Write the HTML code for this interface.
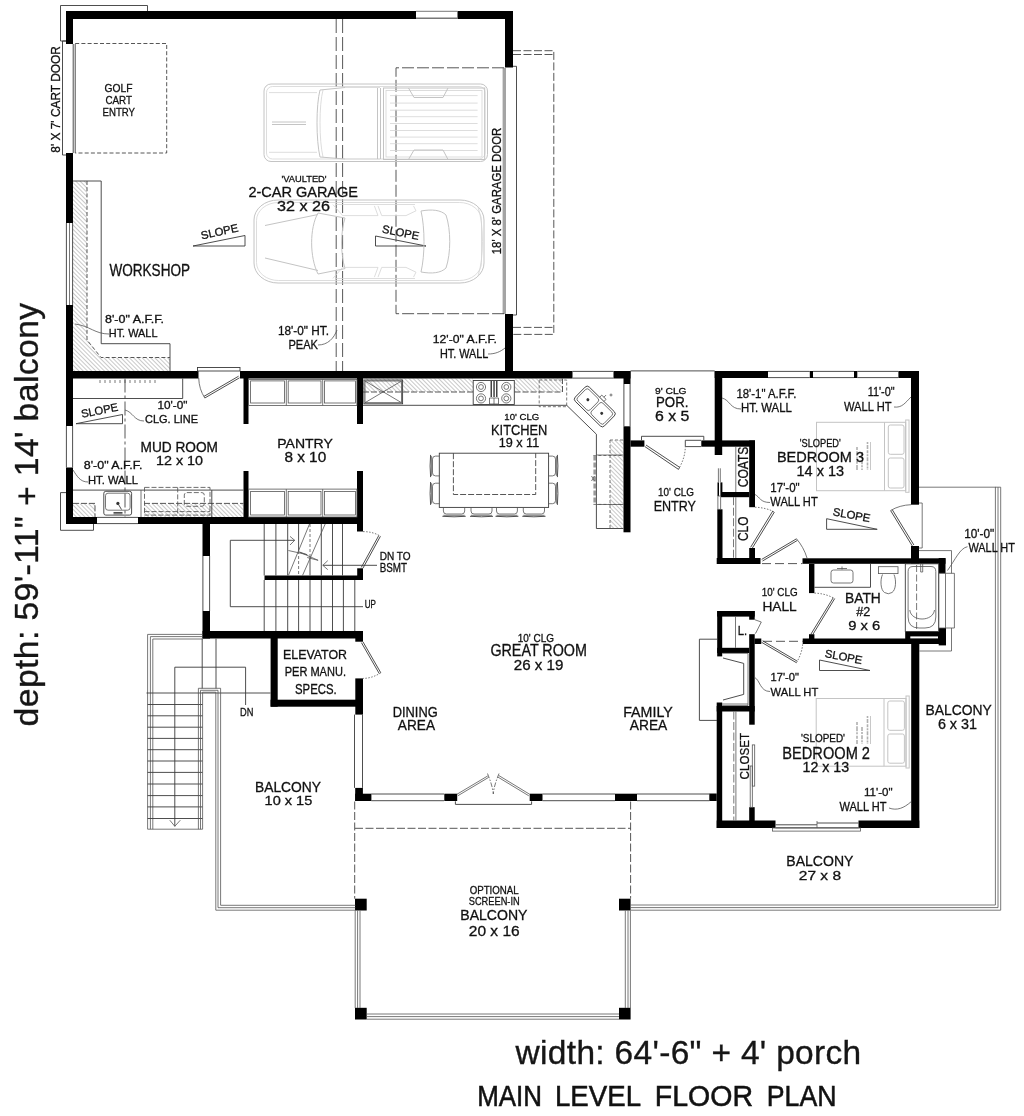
<!DOCTYPE html>
<html><head><meta charset="utf-8"><title>Main Level Floor Plan</title>
<style>
html,body{margin:0;padding:0;background:#fff;}
body{width:1024px;height:1116px;overflow:hidden;font-family:"Liberation Sans",sans-serif;}
svg{display:block;filter:grayscale(1);}
svg text{font-family:"Liberation Sans",sans-serif;}
.t{stroke:#3a3a3a;stroke-width:.9;fill:none;}
.t2{stroke:#555;stroke-width:.8;fill:none;}
.d{stroke:#444;stroke-width:.9;fill:none;stroke-dasharray:4 2.2;}
.dg{stroke:#444;stroke-width:.9;fill:none;stroke-dasharray:12 3;}
.dr{stroke:#444;stroke-width:.9;fill:none;stroke-dasharray:14 4;}
.d3{stroke:#555;stroke-width:.8;fill:none;stroke-dasharray:8 2.5;}
.d4{stroke:#555;stroke-width:.85;fill:none;stroke-dasharray:5 2;}
.dl{stroke:#444;stroke-width:.9;fill:none;stroke-dasharray:8 2.5;}
.d2{stroke:#555;stroke-width:.8;fill:none;stroke-dasharray:3 2;}
.g{stroke:#c4c4c4;stroke-width:1;fill:none;}
.gg{stroke:#d4d4d4;stroke-width:.8;fill:none;}
.h{stroke:#8a8a8a;stroke-width:.5;fill:none;}
.tx{fill:#111;stroke:#111;stroke-width:.3;}
.big{fill:#161616;stroke:#161616;stroke-width:.35;}
.ttl{fill:#111;stroke:#111;stroke-width:.55;}
</style></head><body>
<svg width="1024" height="1116" viewBox="0 0 1024 1116">
<defs>
<pattern id="hat" width="3" height="3" patternUnits="userSpaceOnUse" patternTransform="rotate(-45)"><line x1="0" y1="0" x2="0" y2="3" stroke="#777" stroke-width=".8"/></pattern>
</defs>
<rect width="1024" height="1116" fill="#fff"/>
<g id="hatch">
<polygon points="73,181 87,181 87,340 101,357.5 170,357.5 170,371 73,371" fill="url(#hat)"/>
<rect x="73" y="503.4" width="22" height="13.6" fill="url(#hat)"/>
<rect x="144" y="503.4" width="99.5" height="13.6" fill="url(#hat)"/>
<rect x="363" y="378.5" width="110" height="13.5" fill="url(#hat)"/>
<rect x="514.5" y="378.5" width="48" height="13.5" fill="url(#hat)"/>
<rect x="610" y="440" width="13.5" height="88.5" fill="url(#hat)"/>
</g>
<g id="walls">
<rect x="66" y="11" width="350" height="8" fill="#000"/>
<rect x="457.5" y="11" width="55.5" height="8" fill="#000"/>
<rect x="66" y="11" width="7" height="33" fill="#000"/>
<rect x="66" y="153" width="7" height="70" fill="#000"/>
<rect x="66" y="305" width="7" height="73" fill="#000"/>
<rect x="505" y="11" width="8" height="56.5" fill="#000"/>
<rect x="505" y="314" width="8" height="58" fill="#000"/>
<rect x="66" y="371" width="132.5" height="7.5" fill="#000"/>
<rect x="240" y="371" width="332.5" height="7.5" fill="#000"/>
<rect x="613.5" y="371" width="17" height="7.5" fill="#000"/>
<rect x="66" y="378" width="7" height="48" fill="#000"/>
<rect x="66" y="467.5" width="7" height="56.5" fill="#000"/>
<rect x="66" y="517" width="31" height="7" fill="#000"/>
<rect x="138" y="517" width="225" height="7" fill="#000"/>
<rect x="243.5" y="378" width="5" height="46" fill="#000"/>
<rect x="243.5" y="471" width="5" height="46" fill="#000"/>
<rect x="357" y="378" width="6" height="46" fill="#000"/>
<rect x="357" y="471" width="6" height="60.5" fill="#000"/>
<rect x="202.5" y="524" width="7.5" height="32" fill="#000"/>
<rect x="202.5" y="611" width="7.5" height="27.5" fill="#000"/>
<rect x="202.5" y="631" width="160.5" height="7.5" fill="#000"/>
<rect x="264.5" y="575.5" width="98.5" height="4.5" fill="#000"/>
<rect x="357.2" y="568.3" width="5.8" height="11.7" fill="#000"/>
<rect x="355.3" y="631" width="7.7" height="10.7" fill="#000"/>
<rect x="355.3" y="678.4" width="7.7" height="36.2" fill="#000"/>
<rect x="270.6" y="638" width="7.1" height="68.7" fill="#000"/>
<rect x="270.6" y="699.7" width="92.4" height="7" fill="#000"/>
<rect x="623.5" y="371" width="7" height="13" fill="#000"/>
<rect x="623.5" y="426.3" width="7" height="106" fill="#000"/>
<rect x="630.5" y="440.4" width="13.9" height="6.3" fill="#000"/>
<rect x="701.3" y="440.4" width="53.7" height="6.3" fill="#000"/>
<rect x="714.7" y="371" width="7.5" height="84" fill="#000"/>
<rect x="714.7" y="371" width="53.3" height="7" fill="#000"/>
<rect x="809.8" y="371" width="3.2" height="7" fill="#000"/>
<rect x="854" y="371" width="3.3" height="7" fill="#000"/>
<rect x="898.4" y="371" width="20.6" height="7" fill="#000"/>
<rect x="911" y="371" width="8" height="133.7" fill="#000"/>
<rect x="911" y="546" width="8" height="18" fill="#000"/>
<rect x="749.2" y="440.4" width="5.8" height="66.8" fill="#000"/>
<rect x="721" y="492" width="28.2" height="5.2" fill="#000"/>
<rect x="717.3" y="509.3" width="5.2" height="54.7" fill="#000"/>
<rect x="717.5" y="482.4" width="1.5" height="13.6" fill="#000"/>
<rect x="720.4" y="482.4" width="2" height="13.6" fill="#000"/>
<rect x="716.7" y="558" width="43.8" height="6" fill="#000"/>
<rect x="802.5" y="558.3" width="143" height="5.5" fill="#000"/>
<rect x="749.2" y="548" width="5.8" height="10" fill="#000"/>
<rect x="809" y="564" width="5.4" height="29.1" fill="#000"/>
<rect x="809" y="634.2" width="5.4" height="4.8" fill="#000"/>
<rect x="938.7" y="558" width="6.8" height="15.3" fill="#000"/>
<rect x="938.7" y="628" width="7.3" height="17.4" fill="#000"/>
<rect x="754.5" y="638.5" width="6.8" height="5.5" fill="#000"/>
<rect x="802.7" y="638.5" width="141.8" height="5.5" fill="#000"/>
<rect x="905.2" y="631.5" width="40.8" height="12.5" fill="#000"/>
<rect x="910.3" y="636.4" width="27.7" height="2" fill="#fff"/>
<rect x="717.2" y="611" width="37.5" height="5.6" fill="#000"/>
<rect x="717.2" y="611" width="5" height="45.4" fill="#000"/>
<rect x="749.2" y="611" width="5.5" height="8.7" fill="#000"/>
<rect x="749.2" y="634.2" width="5.5" height="90.5" fill="#000"/>
<rect x="717.2" y="647.8" width="32" height="5.2" fill="#000"/>
<rect x="716.7" y="702.5" width="5.5" height="125.5" fill="#000"/>
<rect x="716.7" y="706" width="38" height="5.5" fill="#000"/>
<rect x="716.7" y="820.5" width="58.8" height="7.5" fill="#000"/>
<rect x="858.5" y="820.5" width="60.8" height="7.5" fill="#000"/>
<rect x="911.2" y="644" width="8.1" height="184" fill="#000"/>
<rect x="749.2" y="807.2" width="5.5" height="13.8" fill="#000"/>
<rect x="355.2" y="787.9" width="7.7" height="13.1" fill="#000"/>
<rect x="355.2" y="793.7" width="16.2" height="7.3" fill="#000"/>
<rect x="444.3" y="793.7" width="12.9" height="7.3" fill="#000"/>
<rect x="529.7" y="793.7" width="12.8" height="7.3" fill="#000"/>
<rect x="615" y="793.7" width="22" height="7.3" fill="#000"/>
<rect x="709.3" y="793.5" width="7.4" height="7.5" fill="#000"/>
<rect x="355" y="898.7" width="11.7" height="11.8" fill="#000"/>
<rect x="619" y="898.7" width="11.6" height="11.8" fill="#000"/>
<rect x="355" y="1007.8" width="11.7" height="11.7" fill="#000"/>
<rect x="619" y="1007.8" width="11.6" height="11.7" fill="#000"/>
</g>
<g id="garage">
<path class="t" d="M66,41 H60.5 V5.5 H147.5 V11"/>
<path class="t" d="M66,41 H62.5 V155 H66"/>
<line class="t" x1="73.2" y1="44" x2="73.2" y2="153"/>
<line class="t" x1="75.2" y1="44" x2="75.2" y2="153"/>
<path class="d" d="M75.2,43.5 H166.7 V153 H75.2"/>
<line class="t2" x1="416" y1="11.3" x2="457.5" y2="11.3"/>
<line x1="416" y1="18.2" x2="457.5" y2="18.2" stroke="#777" stroke-width="1.4"/>
<line class="t" x1="66.4" y1="223" x2="66.4" y2="305"/>
<line class="t" x1="72.6" y1="223" x2="72.6" y2="305"/>
<line class="t2" x1="69.5" y1="223" x2="69.5" y2="305"/>
<path class="t" d="M73,181 H101.2 V343.7 H170 V371"/>
<path class="d" d="M87,181 V340 L101,357.5 H170"/>
<line class="dr" x1="336.2" y1="19" x2="336.2" y2="371"/>
<line class="dr" x1="342.6" y1="19" x2="342.6" y2="371"/>
<rect x="502.6" y="67.8" width="3.4" height="246.2" fill="#a4a4a4"/>
<path class="t" d="M513,66.3 H516.5 V315 H513"/>
<path class="dg" d="M504,67.8 H396 V313.7 H504"/>
<path class="dl" d="M513,50.7 H553.8 V334.4 H513"/>
<line class="dl" x1="513" y1="54.5" x2="554" y2="54.5"/>
<line class="dl" x1="513" y1="327.4" x2="553.8" y2="327.4"/>
<path class="t" d="M193,246 L245,235.5 V246 Z"/>
<path class="t" d="M375.5,236 V246 H426 Z"/>
<path class="t2" d="M75,324 C90,326 95,334 109,334"/>
<path class="t2" d="M318,345 C328,345 334,338 337,330"/>
<path class="t2" d="M488,354 C495,354 500,352 505,348"/>
<rect class="t" x="197.5" y="367.5" width="42.5" height="3.5"/>
</g>
<g id="cars">
<rect class="g" x="264" y="84" width="223.5" height="77.5" rx="7"/>
<rect class="gg" x="266.5" y="86.5" width="218.5" height="72.5" rx="6"/>
<path class="g" d="M320,90 C316,105 316,140 320,157"/>
<path class="gg" d="M323,90 C319,105 319,140 323,157"/>
<path class="g" d="M320,90 L345,87.5 M320,157 L345,159"/>
<path class="gg" d="M345,87.5 H380 M345,159 H380"/>
<path class="g" d="M377.5,88 V159 M380.5,88 V159"/>
<rect class="g" x="383.5" y="88" width="101.2" height="71.5"/>
<rect class="gg" x="386" y="90.5" width="96" height="66.5"/>
<line class="gg" x1="390" y1="95.6" x2="477.6" y2="95.6"/>
<line class="gg" x1="390" y1="103.1" x2="477.6" y2="103.1"/>
<line class="gg" x1="390" y1="110.2" x2="477.6" y2="110.2"/>
<line class="gg" x1="390" y1="116.7" x2="477.6" y2="116.7"/>
<line class="gg" x1="390" y1="123.5" x2="477.6" y2="123.5"/>
<line class="gg" x1="390" y1="130.5" x2="477.6" y2="130.5"/>
<line class="gg" x1="390" y1="137.1" x2="477.6" y2="137.1"/>
<line class="gg" x1="390" y1="143.7" x2="477.6" y2="143.7"/>
<line class="gg" x1="390" y1="150.5" x2="477.6" y2="150.5"/>
<path class="gg" d="M269,92.6 H317 M269,152.3 H317"/>
<path class="g" d="M408.5,88 L414,97.5 H443 L448,88"/>
<path class="g" d="M408.5,159.5 L414,150 H443 L448,159.5"/>
<path class="g" d="M272,122 H306 M272,124.5 H306"/>
<rect class="g" x="254" y="200" width="230" height="83" rx="24" ry="20"/>
<rect class="gg" x="256.5" y="202.5" width="225" height="78" rx="22" ry="18"/>
<path class="g" d="M265,225.5 L318,214.5 M265,258 L318,270.5"/>
<path class="g" d="M318,213 C309.5,228 309.5,257 318,274"/>
<path class="g" d="M345,218 C340.5,232 340.5,254 345,268.6"/>
<path class="g" d="M318,213 L345,218 M318,274 L345,268.6"/>
<path class="gg" d="M332.9,204.6 L342.7,215.6 H378 L374.4,205.9 M378,205.9 L381.7,215.6 H406 L416,210.8 L413.5,205.9"/>
<path class="gg" d="M332.9,278.4 L342.7,267.4 H378 L374.4,277.1 M378,277.1 L381.7,267.4 H406 L416,272.2 L413.5,277.1"/>
<path class="gg" d="M336,204.5 H415 M336,278.5 H415"/>
<path class="g" d="M421,211 C432,209 441,210 446,215 C451,230 451,253 446,268 C441,273 432,274 421,272 C425,255 425,228 421,211 Z"/>
<path class="gg" d="M478,207 C484,225 484,258 478,276"/>
</g>
<g id="mud">
<path class="t" d="M239.5,377.8 L204.8,398 M238.6,376.2 L203.9,396.4"/>
<path class="t2" d="M198.7,378 C199,386 201,392 204.8,398"/>
<path class="t" d="M73,398.5 H182.7 V378.5"/>
<line class="t2" x1="100" y1="380" x2="100" y2="383"/>
<line class="t2" x1="105" y1="380" x2="105" y2="383"/>
<line class="t2" x1="110" y1="380" x2="110" y2="383"/>
<line class="t2" x1="115" y1="380" x2="115" y2="383"/>
<line class="t2" x1="120" y1="380" x2="120" y2="383"/>
<line class="t2" x1="125" y1="380" x2="125" y2="383"/>
<line class="t2" x1="130" y1="380" x2="130" y2="383"/>
<line class="t2" x1="135" y1="380" x2="135" y2="383"/>
<line class="t2" x1="140" y1="380" x2="140" y2="383"/>
<line class="t2" x1="145" y1="380" x2="145" y2="383"/>
<line class="t2" x1="150" y1="380" x2="150" y2="383"/>
<line class="t2" x1="155" y1="380" x2="155" y2="383"/>
<line x1="125" y1="378.5" x2="125" y2="517" stroke="#444" stroke-width=".9" stroke-dasharray="14 3 3 3"/>
<path class="t" d="M76,423.7 L122.5,414.5 V423.7 Z"/>
<path class="t2" d="M125,410 C133,412 134,421 144,421"/>
<path class="t2" d="M73,470 C77,476 80,482 88,482"/>
<line class="t" x1="66.4" y1="426" x2="66.4" y2="467.5"/>
<line class="t" x1="72.6" y1="426" x2="72.6" y2="467.5"/>
<line class="t" x1="73" y1="490.1" x2="243.5" y2="490.1"/>
<path d="M73,503.4 H95 V517 M144,503.4 H243.5" stroke="#444" stroke-width=".9" fill="none" stroke-dasharray="6 2"/>
<line class="t2" x1="141" y1="490.1" x2="141" y2="517"/>
<line class="t" x1="211.8" y1="490.1" x2="211.8" y2="517"/>
<rect class="t" x="103.8" y="491.3" width="27.8" height="23.8" rx="2"/>
<rect class="t2" x="105.5" y="493.2" width="24.6" height="17" rx="2.5"/>
<circle cx="117.9" cy="503.4" r="1.6" fill="#333"/>
<path class="t" d="M118.5,504.5 l3,5 M113.5,512.5 h9 M113.5,513.8 h9"/>
<rect class="d4" x="144.5" y="487.4" width="65.5" height="27.7"/>
<line class="d4" x1="177.7" y1="487.4" x2="177.7" y2="515.1"/>
<line class="d4" x1="144.5" y1="511.6" x2="210" y2="511.6"/>
<rect class="d4" x="184.3" y="492.6" width="20" height="13.7" rx="2.5"/>
<line class="t" x1="97" y1="517.4" x2="138" y2="517.4"/>
<line class="t" x1="97" y1="523.6" x2="138" y2="523.6"/>
<path class="t" d="M66,492.6 H60.5 V530.3 H93.5 V524"/>
<rect class="t2" x="248.6" y="379.5" width="108.3" height="25.9"/>
<rect class="t2" x="248.6" y="489.1" width="108.3" height="27.9"/>
<rect class="t2" x="250.6" y="380.9" width="33.9" height="22.1"/>
<rect class="t2" x="250.6" y="491.4" width="33.9" height="23.6"/>
<rect class="t2" x="288.2" y="380.9" width="32.8" height="22.1"/>
<rect class="t2" x="288.2" y="491.4" width="32.8" height="23.6"/>
<rect class="t2" x="324.4" y="380.9" width="31" height="22.1"/>
<rect class="t2" x="324.4" y="491.4" width="31" height="23.6"/>
<line class="t2" x1="286.3" y1="379.5" x2="286.3" y2="405.4"/>
<line class="t2" x1="286.3" y1="489.1" x2="286.3" y2="517"/>
<line class="t2" x1="322.7" y1="379.5" x2="322.7" y2="405.4"/>
<line class="t2" x1="322.7" y1="489.1" x2="322.7" y2="517"/>
</g>
<g id="stairs">
<line class="t" x1="264.2" y1="580" x2="264.2" y2="631"/>
<line class="t" x1="275.9" y1="580" x2="275.9" y2="631"/>
<line class="t" x1="287.7" y1="580" x2="287.7" y2="631"/>
<line class="t" x1="298.6" y1="580" x2="298.6" y2="631"/>
<line class="t" x1="310" y1="580" x2="310" y2="631"/>
<line class="t" x1="321.3" y1="580" x2="321.3" y2="631"/>
<line class="t" x1="332.5" y1="580" x2="332.5" y2="631"/>
<line class="t" x1="343.4" y1="580" x2="343.4" y2="631"/>
<line class="t" x1="354.8" y1="580" x2="354.8" y2="631"/>
<line class="t" x1="264.2" y1="524" x2="264.2" y2="575.5"/>
<line class="t" x1="275.9" y1="524" x2="275.9" y2="575.5"/>
<line class="t" x1="287.7" y1="524" x2="287.7" y2="575.5"/>
<line class="t" x1="321.3" y1="524" x2="321.3" y2="575.5"/>
<line class="t" x1="332.5" y1="524" x2="332.5" y2="575.5"/>
<line class="t" x1="342.5" y1="524" x2="342.5" y2="575.5"/>
<line class="t" x1="298.6" y1="524" x2="298.6" y2="551"/>
<line class="d2" x1="298.6" y1="551" x2="298.6" y2="575.5"/>
<line class="d2" x1="310" y1="524" x2="310" y2="557"/>
<line class="t" x1="310" y1="557" x2="310" y2="575.5"/>
<line class="t" x1="202.9" y1="556" x2="202.9" y2="611"/>
<line class="t" x1="209.6" y1="556" x2="209.6" y2="611"/>
<path class="t" d="M294.7,540.3 H230.3 V606.7 H363"/>
<path class="t2" d="M290,536.4 L294.7,540.3 L290,545"/>
<path class="t" d="M377,565.3 H322.8"/>
<path class="t2" d="M327.8,560.6 L322.8,565.3 L327.8,569.7"/>
<path class="t2" d="M309.5,524 L288.4,575.5 M325.2,524 L302.5,575.5"/>
<path class="t2" d="M288.4,550.5 L307.2,554.7 L299.4,552 L318.1,560.3 L307.2,557.5"/>
<path class="t" d="M362.9,568.3 L380.4,536.3 M361.3,567.4 L378.8,535.5"/>
<path d="M363,531.6 C370,531.6 376,533.3 380.4,536.3" stroke="#555" stroke-width=".8" fill="none" stroke-dasharray="1.5 1.5"/>
<path class="t" d="M362.9,641.7 L380.8,672.8 M361.4,642.6 L379.3,673.7"/>
<path d="M380.8,672.8 C375,676.5 369,678.4 363,678.4" stroke="#555" stroke-width=".8" fill="none" stroke-dasharray="1.5 1.5"/>
</g>
<g id="extstair">
<path class="t2" d="M202.5,634.4 H147.6 V829.2 H202.6"/>
<path class="t2" d="M202.5,636.6 H150.4 V829.2"/>
<path class="t2" d="M202.5,639 H152.8 V829.2"/>
<line class="t" x1="202.2" y1="638.5" x2="202.2" y2="688.5"/>
<line class="t" x1="216" y1="638.5" x2="216" y2="688.5"/>
<path class="t" d="M174.8,826.3 V667.2 H245.6 V705"/>
<path class="t2" d="M169.8,820.2 L174.8,826.3 L180.3,820.2"/>
<line class="t" x1="146.5" y1="693" x2="270.6" y2="693"/>
<line class="t" x1="147.6" y1="704.5" x2="202.6" y2="704.5"/>
<line class="t" x1="147.6" y1="715.8" x2="202.6" y2="715.8"/>
<line class="t" x1="147.6" y1="727.2" x2="202.6" y2="727.2"/>
<line class="t" x1="147.6" y1="738.4" x2="202.6" y2="738.4"/>
<line class="t" x1="147.6" y1="749.7" x2="202.6" y2="749.7"/>
<line class="t" x1="147.6" y1="761" x2="202.6" y2="761"/>
<line class="t" x1="147.6" y1="772.4" x2="202.6" y2="772.4"/>
<line class="t" x1="147.6" y1="784" x2="202.6" y2="784"/>
<line class="t" x1="147.6" y1="795.6" x2="202.6" y2="795.6"/>
<line class="t" x1="147.6" y1="806.9" x2="202.6" y2="806.9"/>
<line class="t" x1="147.6" y1="818.5" x2="202.6" y2="818.5"/>
<path class="t2" d="M198.4,829.2 V688.3 H220.6 V905.3 H355.5"/>
<path class="t2" d="M200.5,829.2 V690.3 H218 V907.7 H355.5"/>
<path class="t2" d="M202.6,829.2 V692.2 H215.8 V910.2 H355.5"/>
<line class="t2" x1="355.2" y1="910.5" x2="355.2" y2="1008"/>
<line class="t2" x1="357.6" y1="910.5" x2="357.6" y2="1008"/>
<line class="t2" x1="360" y1="910.5" x2="360" y2="1008"/>
</g>
<g id="kitchen">
<rect class="t" x="363.9" y="380" width="38.7" height="23.8"/>
<rect class="t2" x="365" y="381" width="36.5" height="21.7"/>
<path class="t2" d="M365,381 L401.5,402.7 M401.5,381 L365,402.7"/>
<path class="t" d="M363,405.3 H566.7"/>
<path d="M363,392 H473 M514.5,392 H562.5 V378.5" stroke="#444" stroke-width=".9" fill="none" stroke-dasharray="6 2"/>
<rect class="t" x="473.2" y="380.5" width="41.1" height="24"/>
<circle class="t2" cx="481" cy="387" r="4.6"/><circle class="t2" cx="481" cy="387" r="2.4"/>
<circle class="t2" cx="481" cy="398.4" r="4.6"/><circle class="t2" cx="481" cy="398.4" r="2.4"/>
<circle class="t2" cx="506.3" cy="387" r="4.6"/><circle class="t2" cx="506.3" cy="387" r="2.4"/>
<circle class="t2" cx="506.3" cy="398.4" r="4.6"/><circle class="t2" cx="506.3" cy="398.4" r="2.4"/>
<rect x="490.5" y="381" width="1.5" height="16" fill="#444"/>
<rect x="493.3" y="381" width="1.5" height="16" fill="#444"/>
<rect x="496" y="381" width="1.5" height="16" fill="#444"/>
<path class="t2" d="M489.5,398 h9 v6 h-9 z M494,398 v6"/>
<rect class="d2" x="539.2" y="380" width="27.5" height="26.7"/>
<line class="t" x1="572.5" y1="371.4" x2="613.5" y2="371.4"/>
<line class="t" x1="572.5" y1="378.1" x2="613.5" y2="378.1"/>
<line class="t" x1="623.9" y1="384" x2="623.9" y2="426.3"/>
<line class="t" x1="630.1" y1="384" x2="630.1" y2="426.3"/>
<path class="t" d="M566.7,405.3 L596.4,434.2 V528.5 H623.5"/>
<g transform="translate(594.8,406.5) rotate(44.5)"><rect class="t" x="-20.5" y="-10" width="41" height="20" rx="3"/><rect class="t2" x="-18.5" y="-8" width="17.5" height="16" rx="2.5"/><rect class="t2" x="1" y="-8" width="17.5" height="16" rx="2.5"/><circle cx="-9.7" cy="0" r="1.5" fill="#333"/><circle cx="9.7" cy="0" r="1.5" fill="#333"/><path class="t2" d="M-3,-10 v-3 h6 v3 M0,-13 v-3"/></g>
<circle class="t2" cx="611" cy="395" r="1"/>
<line class="d2" x1="610" y1="440" x2="610" y2="528.5"/>
<line class="d2" x1="610" y1="440" x2="623.5" y2="440"/>
<path class="d2" d="M593.4,455.5 H623.5 M593.4,504.4 H623.5"/>
<line x1="594.7" y1="455.5" x2="594.7" y2="504.4" stroke="#999" stroke-width="2.6" stroke-dasharray="5 2"/>
<path class="t2" d="M591.5,476 l3,5 M594.5,476 l-3,5"/>
<line class="t2" x1="596.4" y1="455" x2="623.5" y2="455"/>
<line class="t2" x1="596.4" y1="504.5" x2="623.5" y2="504.5"/>
<rect class="t" x="439.3" y="453.2" width="109.3" height="54.2"/>
<path d="M453.4,453.2 V494.5 H535.7 V453.2" stroke="#444" stroke-width=".9" fill="none" stroke-dasharray="6 2"/>
<path class="t2" d="M439.3,456.1 H435.5 Q432.5,456.1 432.5,459.1 V472.9 Q432.5,475.9 435.5,475.9 H439.3"/>
<path class="t" d="M430.6,454.90000000000003 Q429.6,466.0 430.6,477.09999999999997"/>
<line class="t2" x1="431.6" y1="456.1" x2="431.6" y2="475.9"/>
<path class="t2" d="M548.6,456.1 H552.5 Q555.5,456.1 555.5,459.1 V472.9 Q555.5,475.9 552.5,475.9 H548.6"/>
<path class="t" d="M557.4,454.90000000000003 Q558.4,466.0 557.4,477.09999999999997"/>
<line class="t2" x1="556.4" y1="456.1" x2="556.4" y2="475.9"/>
<path class="t2" d="M439.3,483.2 H435.5 Q432.5,483.2 432.5,486.2 V500.7 Q432.5,503.7 435.5,503.7 H439.3"/>
<path class="t" d="M430.6,482.0 Q429.6,493.45 430.6,504.9"/>
<line class="t2" x1="431.6" y1="483.2" x2="431.6" y2="503.7"/>
<path class="t2" d="M548.6,483.2 H552.5 Q555.5,483.2 555.5,486.2 V500.7 Q555.5,503.7 552.5,503.7 H548.6"/>
<path class="t" d="M557.4,482.0 Q558.4,493.45 557.4,504.9"/>
<line class="t2" x1="556.4" y1="483.2" x2="556.4" y2="503.7"/>
<path class="t2" d="M443.4,507.4 V511 Q443.4,514 446.4,514 H461.7 Q464.7,514 464.7,511 V507.4"/>
<path class="t" d="M442.4,516.3 Q454.04999999999995,517.3 465.7,516.3"/>
<line class="t2" x1="443.4" y1="515.3" x2="464.7" y2="515.3"/>
<path class="t2" d="M471,507.4 V511 Q471,514 474,514 H489 Q492,514 492,511 V507.4"/>
<path class="t" d="M470,516.3 Q481.5,517.3 493,516.3"/>
<line class="t2" x1="471" y1="515.3" x2="492" y2="515.3"/>
<path class="t2" d="M496.5,507.4 V511 Q496.5,514 499.5,514 H514.4 Q517.4,514 517.4,511 V507.4"/>
<path class="t" d="M495.5,516.3 Q506.95,517.3 518.4,516.3"/>
<line class="t2" x1="496.5" y1="515.3" x2="517.4" y2="515.3"/>
<path class="t2" d="M523.3,507.4 V511 Q523.3,514 526.3,514 H541.5 Q544.5,514 544.5,511 V507.4"/>
<path class="t" d="M522.3,516.3 Q533.9,517.3 545.5,516.3"/>
<line class="t2" x1="523.3" y1="515.3" x2="544.5" y2="515.3"/>
</g>
<g id="entry">
<line class="t" x1="630.5" y1="370.9" x2="714.7" y2="370.9"/>
<path class="t" d="M641.5,440.3 V436.3 H703.8 V440.3"/>
<path class="t" d="M685.3,440.3 V446.6 H701.1 M685.3,440.3 H701.1"/>
<path class="t" d="M644.9,446.6 L678.5,469.4 M646,445 L679.6,467.3 L678.5,469.4"/>
<path d="M679.6,467.3 C683,461 685.3,454 685.3,446.6" stroke="#555" stroke-width=".8" fill="none" stroke-dasharray="1.5 1.5"/>
<line class="t2" x1="718.4" y1="468.3" x2="718.4" y2="482.4"/>
<line class="t2" x1="720.3" y1="468.3" x2="720.3" y2="482.4"/>
<rect class="t2" x="717.9" y="496" width="2.8" height="13.3"/>
<line class="t2" x1="735.8" y1="446.7" x2="735.8" y2="492"/>
<line class="t2" x1="735.8" y1="497.2" x2="735.8" y2="558"/>
<line class="d3" x1="733.5" y1="497.2" x2="733.5" y2="558"/>
</g>
<g id="great">
<line class="t" x1="354.5" y1="714.6" x2="354.5" y2="787.9"/>
<line class="t" x1="362.5" y1="714.6" x2="362.5" y2="787.9"/>
<line class="t" x1="371.3" y1="794" x2="444" y2="794"/>
<line class="t" x1="371.3" y1="800.7" x2="444" y2="800.7"/>
<line class="t" x1="542.5" y1="794" x2="615" y2="794"/>
<line class="t" x1="542.5" y1="800.7" x2="615" y2="800.7"/>
<line class="t" x1="637" y1="794" x2="709.5" y2="794"/>
<line class="t" x1="637" y1="800.7" x2="709.5" y2="800.7"/>
<path class="t" d="M455.4,801.3 V804.4 H531.6 V801.3"/>
<path class="t2" d="M456.9,794.3 L487.8,775.9 M457.8,795.8 L488.6,777.4 M529.7,794.3 L498.6,775.4 M528.8,795.8 L497.8,777"/>
<path d="M487.5,773.5 C490,780 492.5,786 493.3,794 M499,773.5 C496.5,780 494,786 493.3,794" stroke="#555" stroke-width=".8" fill="none" stroke-dasharray="5 1.5 1.5 1.5"/>
<path class="t" d="M717,639.2 H699.4 V720.4 H717"/>
<line class="dl" x1="354.7" y1="801.5" x2="354.7" y2="898.7"/>
<line class="dl" x1="630.6" y1="801.5" x2="630.6" y2="898.7"/>
<line class="dl" x1="355" y1="828.3" x2="630.6" y2="828.3"/>
<line class="t2" x1="625.3" y1="910.5" x2="625.3" y2="1008"/>
<line class="t2" x1="628" y1="910.5" x2="628" y2="1008"/>
<line class="t2" x1="630.4" y1="910.5" x2="630.4" y2="1008"/>
<line class="t2" x1="366.7" y1="1014" x2="619" y2="1014"/>
<line class="t2" x1="366.7" y1="1016.6" x2="619" y2="1016.6"/>
<line class="t2" x1="366.7" y1="1019.2" x2="619" y2="1019.2"/>
<path class="t2" d="M630.6,905 H995.4 V487.2 H919"/>
<path class="t2" d="M630.6,907.6 H998 V487.2"/>
<path class="t2" d="M630.6,910.2 H1000.7 V487.2 H995"/>
</g>
<g id="bed3">
<line class="t" x1="768" y1="371.4" x2="809.8" y2="371.4"/>
<line class="t" x1="768" y1="377.6" x2="809.8" y2="377.6"/>
<line class="t" x1="813" y1="371.4" x2="854" y2="371.4"/>
<line class="t" x1="813" y1="377.6" x2="854" y2="377.6"/>
<line class="t" x1="857.3" y1="371.4" x2="898.4" y2="371.4"/>
<line class="t" x1="857.3" y1="377.6" x2="898.4" y2="377.6"/>
<path class="t2" d="M722,398 C730,400 730,409 741,409"/>
<path class="t2" d="M894,407 C902,408 905,403 911,397"/>
<path class="t2" d="M755,494.5 C760,497 760,502.5 770,502.5"/>
<path class="t2" d="M967.5,546.7 C960,548 955,560 947.5,570.5"/>
<path class="t" d="M826.6,518.7 V529.3 H877.2 Z"/>
<path class="t" d="M752.2,548.3 L774.4,512 M750.6,547.3 L772.8,511"/>
<path d="M755,507.2 C762,507.5 769,509 774.4,512" stroke="#555" stroke-width=".8" fill="none" stroke-dasharray="1.5 1.5"/>
<path class="t" d="M761.7,559.4 L796.5,538.8 M762.5,561 L797.4,540.4"/>
<path class="t2" d="M796.5,538.8 C801,544 805,551 807,558"/>
<line x1="762" y1="563.6" x2="802.5" y2="563.6" stroke="#444" stroke-width=".9" stroke-dasharray="9 4"/>
<path class="t" d="M912.3,546 L890.6,510.6 M913.9,545 L892.2,509.6"/>
<path class="t2" d="M890.6,510.6 C896,507 904,504.9 911,504.7"/>
<path class="t2" d="M919,503 H922.2 V548 H919"/>
<rect class="g" x="816.5" y="422.3" width="89.2" height="68.4"/>
<rect class="g" x="905.7" y="420" width="3.3" height="72.3"/>
<line class="g" x1="884.5" y1="422.3" x2="884.5" y2="490.7"/>
<rect class="g" x="888.3" y="425" width="15.7" height="29.3" rx="2"/><rect class="g" x="888.3" y="458" width="15.7" height="30" rx="2"/>
</g>
<g stroke="#b0b0b0" stroke-width="1.6" fill="none"><line x1="857" y1="447" x2="857" y2="470" stroke-dasharray="3 1.2 5 1 2 1.5"/><line x1="862" y1="452" x2="862" y2="470" stroke-dasharray="4 1 2 1.2"/><line x1="867.5" y1="442" x2="867.5" y2="470" stroke-dasharray="2 1 4 1.2 3 1"/><line x1="870.5" y1="442" x2="870.5" y2="470" stroke-width=".7"/></g>
<g id="bath">
<path class="t" d="M814.4,587.3 H870.5 V564"/>
<rect class="t2" x="831" y="570" width="22" height="13" rx="2.5"/>
<path class="t2" d="M837,568.5 h10 M842,566.5 v3"/>
<rect class="t2" x="878.5" y="566.7" width="19.5" height="6.9"/>
<path class="t2" d="M882.5,574.5 C880,580 880.5,590 884.5,592.5 Q888.3,595 892,592.5 C896,590 896.5,580 894,574.5"/>
<rect class="t" x="905.3" y="563.8" width="33.4" height="67.7"/>
<path class="t2" d="M913,566.5 H931 Q935.8,566.5 935.8,571.5 V617 Q935.8,628 925,628 H919 Q908.1,628 908.1,617 V571.5 Q908.1,566.5 913,566.5 Z"/>
<path class="t2" d="M909.8,610 C911,622 933,622 934.5,610"/>
<line x1="916.6" y1="565" x2="916.6" y2="631" stroke="#555" stroke-width=".8" stroke-dasharray="7 2.5"/>
<path class="t2" d="M920.7,563.8 V572 H922.7 V563.8"/>
<path class="t2" d="M938.7,573.3 H954.4 V628 H938.7 Z"/>
<line class="t2" x1="945.5" y1="573.3" x2="945.5" y2="628"/>
<path class="t2" d="M919,550.6 H951.5 V573.3"/>
<path class="t2" d="M951.5,628 V651 H919.3"/>
<path class="t" d="M812.5,635 L834.7,598.6 M811,634 L833.2,597.8"/>
<path d="M814.4,593.1 C822,593.3 829,595.3 834.7,598.6" stroke="#555" stroke-width=".8" fill="none" stroke-dasharray="1.5 1.5"/>
<line class="t2" x1="735.5" y1="616.6" x2="735.5" y2="647.8"/>
<path class="t2" d="M754.7,619.7 L761.3,622 L755.8,633 L754.7,634"/>
<line x1="763" y1="641.3" x2="802.7" y2="641.3" stroke="#444" stroke-width=".9" stroke-dasharray="9 4"/>
<path class="t" d="M761.6,642.3 L796.4,662.7 M762.6,640.8 L797.3,661.2"/>
<path d="M796.4,662.7 C800,657 802.3,650 802.7,644" stroke="#555" stroke-width=".8" fill="none" stroke-dasharray="1.5 1.5"/>
</g>
<g id="bed2">
<path class="t" d="M819.5,660 V670.5 H870 Z"/>
<path class="t2" d="M754.7,677.5 C760,680 760,691.5 770,691.5"/>
<path class="t2" d="M889,808 C897,811 904,808 911,801.8"/>
<path class="t" d="M723,658 L743.7,663.4 V694.4 L723,700"/>
<path class="t2" d="M722.2,653.3 H748 V705.6 H722.2"/>
<line class="t2" x1="722.2" y1="704" x2="748" y2="704"/>
<line class="t2" x1="735.9" y1="711.5" x2="735.9" y2="820.5"/>
<line class="d3" x1="733.8" y1="711.5" x2="733.8" y2="820.5"/>
<rect class="t2" x="752.3" y="744.9" width="2.4" height="41.2"/>
<rect class="t2" x="750.2" y="766" width="2.1" height="41.3"/>
<line class="t" x1="775.5" y1="824.8" x2="817" y2="824.8"/>
<line class="t" x1="817" y1="823" x2="858.5" y2="823"/>
<line class="t" x1="775.5" y1="827.8" x2="858.5" y2="827.8"/>
<line class="t2" x1="817" y1="821" x2="817" y2="828"/>
<rect class="t2" x="772.5" y="828" width="87.9" height="3.1"/>
<rect class="g" x="816.2" y="698.5" width="89.8" height="67.7"/>
<rect class="g" x="906" y="696" width="3.2" height="72"/>
<line class="g" x1="884" y1="698.5" x2="884" y2="766.2"/>
<rect class="g" x="887.8" y="701" width="16.6" height="29.3" rx="2"/><rect class="g" x="887.8" y="734" width="16.6" height="29.2" rx="2"/>
</g>
<g stroke="#b0b0b0" stroke-width="1.6" fill="none"><line x1="857" y1="722" x2="857" y2="744" stroke-dasharray="3 1.2 5 1 2 1.5"/><line x1="862" y1="727" x2="862" y2="744" stroke-dasharray="4 1 2 1.2"/><line x1="867.5" y1="716" x2="867.5" y2="744" stroke-dasharray="2 1 4 1.2 3 1"/><line x1="870.5" y1="716" x2="870.5" y2="744" stroke-width=".7"/></g>
<g id="text">
<text class="tx" x="104.5" y="92" font-size="10.47" textLength="28" lengthAdjust="spacingAndGlyphs">GOLF</text>
<text class="tx" x="105.5" y="103.75" font-size="10.82" textLength="26.5" lengthAdjust="spacingAndGlyphs">CART</text>
<text class="tx" x="102.5" y="115.5" font-size="11.17" textLength="32.5" lengthAdjust="spacingAndGlyphs">ENTRY</text>
<text class="tx" x="281.6" y="182" font-size="9.78" textLength="45" lengthAdjust="spacingAndGlyphs">'VAULTED'</text>
<text class="tx" x="248.4" y="197.05" font-size="15.08" textLength="109.6" lengthAdjust="spacingAndGlyphs">2-CAR GARAGE</text>
<text class="tx" x="277" y="210.55" font-size="14.39" textLength="53" lengthAdjust="spacingAndGlyphs">32 x 26</text>
<text class="tx" x="109.5" y="275.55" font-size="15.71" textLength="80.5" lengthAdjust="spacingAndGlyphs">WORKSHOP</text>
<text class="tx" x="105" y="322.5" font-size="10.47" textLength="59" lengthAdjust="spacingAndGlyphs">8'-0&quot; A.F.F.</text>
<text class="tx" x="108.75" y="337" font-size="11.17" textLength="48.75" lengthAdjust="spacingAndGlyphs">HT. WALL</text>
<text class="tx" x="278" y="334.7" font-size="12.15" textLength="51" lengthAdjust="spacingAndGlyphs">18'-0&quot; HT.</text>
<text class="tx" x="288.4" y="348.75" font-size="12.22" textLength="29.6" lengthAdjust="spacingAndGlyphs">PEAK</text>
<text class="tx" x="432.8" y="343" font-size="11.59" textLength="64.2" lengthAdjust="spacingAndGlyphs">12'-0&quot; A.F.F.</text>
<text class="tx" x="440" y="357.5" font-size="12.22" textLength="48.4" lengthAdjust="spacingAndGlyphs">HT. WALL</text>
<text class="tx" x="157.5" y="408.75" font-size="10.82" textLength="30" lengthAdjust="spacingAndGlyphs">10'-0&quot;</text>
<text class="tx" x="145" y="423" font-size="10.47" textLength="53" lengthAdjust="spacingAndGlyphs">CLG. LINE</text>
<text class="tx" x="140.5" y="451.55" font-size="13.97" textLength="77.5" lengthAdjust="spacingAndGlyphs">MUD ROOM</text>
<text class="tx" x="156" y="464.55" font-size="13.27" textLength="47" lengthAdjust="spacingAndGlyphs">12 x 10</text>
<text class="tx" x="83.75" y="469" font-size="11.17" textLength="58.75" lengthAdjust="spacingAndGlyphs">8'-0&quot; A.F.F.</text>
<text class="tx" x="88" y="484" font-size="11.17" textLength="50" lengthAdjust="spacingAndGlyphs">HT. WALL</text>
<text class="tx" x="277.3" y="447.95" font-size="13.27" textLength="55.5" lengthAdjust="spacingAndGlyphs">PANTRY</text>
<text class="tx" x="284.4" y="462.05" font-size="13.83" textLength="41.8" lengthAdjust="spacingAndGlyphs">8 x 10</text>
<text class="tx" x="379.7" y="559.6" font-size="11.31" textLength="30.9" lengthAdjust="spacingAndGlyphs">DN TO</text>
<text class="tx" x="379.7" y="571.7" font-size="12.15" textLength="27.3" lengthAdjust="spacingAndGlyphs">BSMT</text>
<text class="tx" x="364.8" y="608" font-size="10.20" textLength="11.2" lengthAdjust="spacingAndGlyphs">UP</text>
<text class="tx" x="283" y="659.25" font-size="13.55" textLength="64" lengthAdjust="spacingAndGlyphs">ELEVATOR</text>
<text class="tx" x="284.7" y="676.15" font-size="12.71" textLength="61.3" lengthAdjust="spacingAndGlyphs">PER MANU.</text>
<text class="tx" x="295" y="693.55" font-size="14.25" textLength="41.7" lengthAdjust="spacingAndGlyphs">SPECS.</text>
<text class="tx" x="240" y="715.6" font-size="11.31" textLength="13.4" lengthAdjust="spacingAndGlyphs">DN</text>
<text class="tx" x="504.3" y="420" font-size="9.78" textLength="34.9" lengthAdjust="spacingAndGlyphs">10' CLG</text>
<text class="tx" x="491" y="434.55" font-size="15.50" textLength="56.4" lengthAdjust="spacingAndGlyphs">KITCHEN</text>
<text class="tx" x="498.7" y="447.35" font-size="13.69" textLength="40.5" lengthAdjust="spacingAndGlyphs">19 x 11</text>
<text class="tx" x="655" y="394" font-size="9.78" textLength="31.6" lengthAdjust="spacingAndGlyphs">9' CLG</text>
<text class="tx" x="656" y="407.15" font-size="14.39" textLength="32.4" lengthAdjust="spacingAndGlyphs">POR.</text>
<text class="tx" x="655" y="420.95" font-size="13.97" textLength="34.4" lengthAdjust="spacingAndGlyphs">6 x 5</text>
<text class="tx" x="658" y="496.4" font-size="11.17" textLength="36" lengthAdjust="spacingAndGlyphs">10' CLG</text>
<text class="tx" x="653.7" y="511.45" font-size="15.22" textLength="42.3" lengthAdjust="spacingAndGlyphs">ENTRY</text>
<text class="tx" x="736.4" y="398" font-size="12.57" textLength="60.1" lengthAdjust="spacingAndGlyphs">18'-1&quot; A.F.F.</text>
<text class="tx" x="741" y="412.2" font-size="12.29" textLength="50.8" lengthAdjust="spacingAndGlyphs">HT. WALL</text>
<text class="tx" x="867.7" y="396.4" font-size="12.43" textLength="26.9" lengthAdjust="spacingAndGlyphs">11'-0&quot;</text>
<text class="tx" x="844" y="410.6" font-size="13.41" textLength="47.5" lengthAdjust="spacingAndGlyphs">WALL HT</text>
<text class="tx" x="799.7" y="447" font-size="11.17" textLength="41.1" lengthAdjust="spacingAndGlyphs">'SLOPED'</text>
<text class="tx" x="776.9" y="462.35" font-size="15.36" textLength="87.1" lengthAdjust="spacingAndGlyphs">BEDROOM 3</text>
<text class="tx" x="796.5" y="476.05" font-size="14.66" textLength="47.5" lengthAdjust="spacingAndGlyphs">14 x 13</text>
<text class="tx" x="770.3" y="492.3" font-size="12.43" textLength="29.4" lengthAdjust="spacingAndGlyphs">17'-0&quot;</text>
<text class="tx" x="770.3" y="506.2" font-size="13.27" textLength="47.4" lengthAdjust="spacingAndGlyphs">WALL HT</text>
<text class="tx" x="964.2" y="537.8" font-size="11.87" textLength="30.1" lengthAdjust="spacingAndGlyphs">10'-0&quot;</text>
<text class="tx" x="968.4" y="551.5" font-size="12.43" textLength="46.5" lengthAdjust="spacingAndGlyphs">WALL HT</text>
<text class="tx" x="845" y="603.15" font-size="14.53" textLength="35.8" lengthAdjust="spacingAndGlyphs">BATH</text>
<text class="tx" x="856.3" y="616.15" font-size="13.13" textLength="14.1" lengthAdjust="spacingAndGlyphs">#2</text>
<text class="tx" x="848.2" y="630.25" font-size="13.55" textLength="32" lengthAdjust="spacingAndGlyphs">9 x 6</text>
<text class="tx" x="761.8" y="596" font-size="10.75" textLength="35.8" lengthAdjust="spacingAndGlyphs">10' CLG</text>
<text class="tx" x="762.4" y="610.55" font-size="13.55" textLength="34.3" lengthAdjust="spacingAndGlyphs">HALL</text>
<text class="tx" x="737.8" y="635.35" font-size="13.69" textLength="9.4" lengthAdjust="spacingAndGlyphs">L.</text>
<text class="tx" x="770.6" y="680.6" font-size="11.31" textLength="28.4" lengthAdjust="spacingAndGlyphs">17'-0&quot;</text>
<text class="tx" x="770.6" y="695.5" font-size="11.59" textLength="47.7" lengthAdjust="spacingAndGlyphs">WALL HT</text>
<text class="tx" x="800.9" y="742.2" font-size="10.47" textLength="44.1" lengthAdjust="spacingAndGlyphs">'SLOPED'</text>
<text class="tx" x="782.3" y="758.75" font-size="16.34" textLength="87.7" lengthAdjust="spacingAndGlyphs">BEDROOM 2</text>
<text class="tx" x="802.5" y="771.75" font-size="14.25" textLength="46.7" lengthAdjust="spacingAndGlyphs">12 x 13</text>
<text class="tx" x="864" y="796.2" font-size="10.89" textLength="28.6" lengthAdjust="spacingAndGlyphs">11'-0&quot;</text>
<text class="tx" x="839.4" y="810.8" font-size="11.87" textLength="47.1" lengthAdjust="spacingAndGlyphs">WALL HT</text>
<text class="tx" x="925.5" y="714.55" font-size="15.36" textLength="66.2" lengthAdjust="spacingAndGlyphs">BALCONY</text>
<text class="tx" x="937.9" y="728.55" font-size="14.25" textLength="39.1" lengthAdjust="spacingAndGlyphs">6 x 31</text>
<text class="tx" x="517.7" y="642.2" font-size="10.89" textLength="36.3" lengthAdjust="spacingAndGlyphs">10' CLG</text>
<text class="tx" x="490.4" y="656.15" font-size="16.20" textLength="96.5" lengthAdjust="spacingAndGlyphs">GREAT ROOM</text>
<text class="tx" x="513.8" y="669.85" font-size="14.94" textLength="49.6" lengthAdjust="spacingAndGlyphs">26 x 19</text>
<text class="tx" x="392.7" y="716.75" font-size="14.94" textLength="45" lengthAdjust="spacingAndGlyphs">DINING</text>
<text class="tx" x="397.8" y="730.45" font-size="15.22" textLength="37.2" lengthAdjust="spacingAndGlyphs">AREA</text>
<text class="tx" x="623.2" y="716.75" font-size="14.94" textLength="49.6" lengthAdjust="spacingAndGlyphs">FAMILY</text>
<text class="tx" x="629.8" y="730.45" font-size="15.22" textLength="37.5" lengthAdjust="spacingAndGlyphs">AREA</text>
<text class="tx" x="255" y="791.55" font-size="13.97" textLength="66" lengthAdjust="spacingAndGlyphs">BALCONY</text>
<text class="tx" x="264.6" y="804.95" font-size="13.13" textLength="47.7" lengthAdjust="spacingAndGlyphs">10 x 15</text>
<text class="tx" x="469.7" y="893.75" font-size="10.82" textLength="49.05" lengthAdjust="spacingAndGlyphs">OPTIONAL</text>
<text class="tx" x="468.75" y="905" font-size="11.17" textLength="50.95" lengthAdjust="spacingAndGlyphs">SCREEN-IN</text>
<text class="tx" x="460.3" y="919.85" font-size="14.73" textLength="67.2" lengthAdjust="spacingAndGlyphs">BALCONY</text>
<text class="tx" x="468.75" y="935.8" font-size="15.15" textLength="50.95" lengthAdjust="spacingAndGlyphs">20 x 16</text>
<text class="tx" x="786.3" y="866.35" font-size="15.08" textLength="67.1" lengthAdjust="spacingAndGlyphs">BALCONY</text>
<text class="tx" x="798.8" y="879.55" font-size="12.99" textLength="42.2" lengthAdjust="spacingAndGlyphs">27 x 8</text>
<text class="tx" transform="translate(55.65,99.45) rotate(-90)" x="-53.25" y="4.45" font-size="12.43" textLength="106.5" lengthAdjust="spacingAndGlyphs">8' X 7' CART DOOR</text>
<text class="tx" transform="translate(496.3,191) rotate(-90)" x="-63.25" y="4.45" font-size="12.43" textLength="126.5" lengthAdjust="spacingAndGlyphs">18' X 8' GARAGE DOOR</text>
<text class="tx" transform="translate(743.1,467) rotate(-90)" x="-20.3" y="5.1" font-size="14.25" textLength="40.6" lengthAdjust="spacingAndGlyphs">COATS</text>
<text class="tx" transform="translate(743.1,528.8) rotate(-90)" x="-12.3" y="5.1" font-size="14.25" textLength="24.6" lengthAdjust="spacingAndGlyphs">CLO</text>
<text class="tx" transform="translate(744,756.2) rotate(-90)" x="-23.2" y="4.9" font-size="13.69" textLength="46.4" lengthAdjust="spacingAndGlyphs">CLOSET</text>
<text class="tx" transform="translate(219.5,231.5) rotate(-12.5)" x="-19" y="4" font-size="11.17" textLength="38" lengthAdjust="spacingAndGlyphs">SLOPE</text>
<text class="tx" transform="translate(400.7,232.3) rotate(11.2)" x="-18.75" y="4" font-size="11.17" textLength="37.5" lengthAdjust="spacingAndGlyphs">SLOPE</text>
<text class="tx" transform="translate(99.5,410.3) rotate(-11.2)" x="-18.75" y="4" font-size="11.17" textLength="37.5" lengthAdjust="spacingAndGlyphs">SLOPE</text>
<text class="tx" transform="translate(851.6,514.8) rotate(10.6)" x="-19" y="4" font-size="11.17" textLength="38" lengthAdjust="spacingAndGlyphs">SLOPE</text>
<text class="tx" transform="translate(843.6,656.6) rotate(10.6)" x="-19" y="4" font-size="11.17" textLength="38" lengthAdjust="spacingAndGlyphs">SLOPE</text>
</g>
<text class="big" x="515.6" y="1063.8" font-size="33.5" textLength="345.6" lengthAdjust="spacing">width: 64'-6&quot; + 4' porch</text>
<text class="big" transform="translate(37.6,726.4) rotate(-90)" x="0" y="0" font-size="33.8" textLength="423.6" lengthAdjust="spacing">depth: 59'-11&quot; + 14' balcony</text>
<text class="ttl" x="477.2" y="1106.4" font-size="29.8" textLength="64.8" lengthAdjust="spacingAndGlyphs">MAIN</text>
<text class="ttl" x="555" y="1106.4" font-size="29.8" textLength="86" lengthAdjust="spacingAndGlyphs">LEVEL</text>
<text class="ttl" x="654.8" y="1106.4" font-size="29.8" textLength="98.2" lengthAdjust="spacingAndGlyphs">FLOOR</text>
<text class="ttl" x="766.8" y="1106.4" font-size="29.8" textLength="69.7" lengthAdjust="spacingAndGlyphs">PLAN</text>
</svg>
</body></html>
